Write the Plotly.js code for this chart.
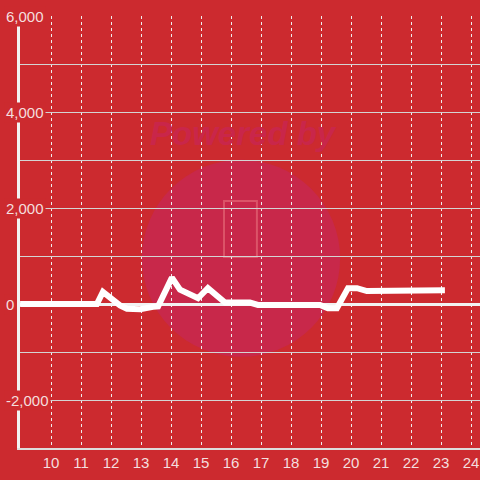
<!DOCTYPE html>
<html>
<head>
<meta charset="utf-8">
<script src="https://cdn.plot.ly/plotly-3.0.1.min.js"></script>
<style>html,body{margin:0;padding:0;background:#cc2a2f;}#chart{width:480px;height:480px;}</style>
</head>
<body>
<div id="chart"></div>
<script>
// Data
const hours = [8.97, 11.53, 11.73, 12.3, 12.53, 12.97, 13.4, 13.57, 14.03, 14.3, 14.9, 15.23, 15.8, 16.63, 16.9, 18.97, 19.23, 19.53, 19.9, 20.2, 20.53, 23.13];
const values = [0, 0, 250, -30, -100, -110, -60, -50, 550, 300, 120, 330, 30, 30, -20, -20, -90, -90, 330, 330, 270, 285];
const xTicks = [10, 11, 12, 13, 14, 15, 16, 17, 18, 19, 20, 21, 22, 23, 24];
const yGrid = [-3000, -2000, -1000, 0, 1000, 2000, 3000, 4000, 5000, 6000];
const yLabelVals = [-2000, 0, 2000, 4000, 6000];
const yLabelText = ["-2,000", "0", "2,000", "4,000", "6,000"];
const watermarkText = "Powered by";

const bg = "#cc2a2f";
const labelColor = "#f4dede";

const trace = {
  x: hours, y: values, type: "scatter", mode: "lines",
  line: {color: "#ffffff", width: 6},
  hoverinfo: "none", showlegend: false
};

const annotations = yLabelVals.map((v, i) => ({
  xref: "paper", yref: "y", x: 0, y: v, xanchor: "left", yanchor: "middle",
  xshift: -16, text: yLabelText[i], showarrow: false, bgcolor: bg, borderpad: 1,
  font: {family: "Liberation Sans, Arial, sans-serif", size: 15, color: labelColor}
}));
annotations.push({
  xref: "paper", yref: "paper", x: 0.485, y: 0.727, xanchor: "center", yanchor: "middle",
  text: "<b><i>" + watermarkText + "</i></b>", showarrow: false,
  font: {family: "Liberation Sans, Arial, sans-serif", size: 33, color: "#c9264a"}
});

const layout = {
  width: 480, height: 480,
  margin: {l: 20, r: 0, t: 16, b: 32, pad: 0},
  paper_bgcolor: bg, plot_bgcolor: bg,
  showlegend: false,
  xaxis: {
    range: [8.9667, 24.3], tickmode: "array", tickvals: xTicks,
    showgrid: true, gridcolor: "#eeeeee", gridwidth: 1, griddash: "dot",
    showline: true, linecolor: "#dddddd", linewidth: 2,
    zeroline: false, ticks: "", ticklen: 0,
    tickfont: {family: "Liberation Sans, Arial, sans-serif", size: 15, color: labelColor},
    fixedrange: true
  },
  yaxis: {
    range: [-3000, 6000], tickmode: "array", tickvals: yGrid,
    showticklabels: false, ticks: "",
    showgrid: true, gridcolor: "#d4d4d4", gridwidth: 1,
    zeroline: true, zerolinecolor: "#f2f2f2", zerolinewidth: 3,
    showline: true, linecolor: "#f2f2f2", linewidth: 3,
    fixedrange: true
  },
  shapes: [
    {type: "circle", xref: "paper", yref: "paper", x0: 0.265, x1: 0.696, y0: 0.211, y1: 0.667,
     fillcolor: "#c8284a", line: {width: 0}, layer: "below"},
    {type: "rect", xref: "paper", yref: "paper", x0: 0.4435, x1: 0.515, y0: 0.442, y1: 0.572,
     fillcolor: "rgba(0,0,0,0)", line: {color: "rgba(235,120,130,0.55)", width: 2}, layer: "below"}
  ],
  annotations: annotations
};

Plotly.newPlot("chart", [trace], layout, {displayModeBar: false, staticPlot: true});
</script>
</body>
</html>
